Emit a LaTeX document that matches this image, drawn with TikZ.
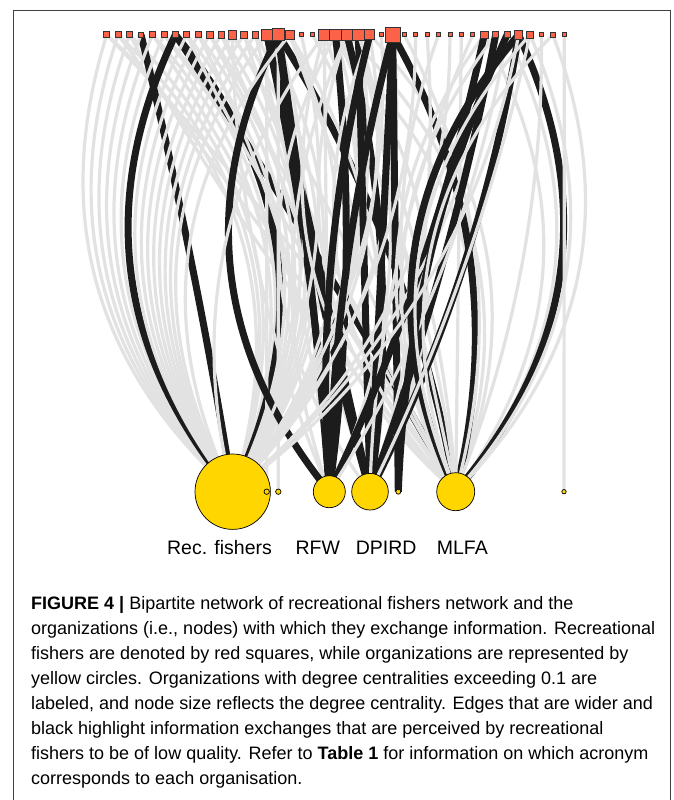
\documentclass[tikz,border=0pt]{standalone}
\usepackage{fontspec}
\setmainfont{Liberation Sans}
\usetikzlibrary{calc}
\pgfdeclarelayer{bg}
\pgfdeclarelayer{edges}
\pgfsetlayers{bg,edges,main}
\definecolor{eg}{RGB}{226,226,226}
\definecolor{eb}{RGB}{28,28,28}
\definecolor{sqfill}{RGB}{252,98,72}
\definecolor{cfill}{RGB}{255,214,0}
\definecolor{framec}{RGB}{64,64,64}
\tikzset{
 gedge/.style={draw=eg, line width=3.2pt},
 bedge/.style={draw=eb, line width=7pt},
 sqnode/.style={rectangle, draw=black!80, line width=0.7pt, fill=sqfill, inner sep=0pt},
 cnode/.style={circle, draw=black, line width=0.7pt, fill=cfill, inner sep=0pt},
 lab/.style={font=\fontsize{19.5}{23}\selectfont, inner sep=0pt, anchor=base},
 captext/.style={font=\fontsize{18}{25}\selectfont, inner sep=0pt, anchor=base west},
 framestyle/.style={draw=framec, line width=1.2pt},
}
\newcommand\grE[3]{%
  \pgfmathsetmacro\kA{2*#3}\pgfmathsetmacro\kB{4*#3}%
  \draw[gedge] (#1.center) .. controls ($(#1)!1/3!(#2)!\kA!90:(#2)$) and ($(#1)!2/3!(#2)!\kB!90:(#2)$) .. (#2.center);}
\newcommand\bkE[3]{%
  \pgfmathsetmacro\kA{2*#3}\pgfmathsetmacro\kB{4*#3}%
  \draw[bedge] (#1.center) .. controls ($(#1)!1/3!(#2)!\kA!90:(#2)$) and ($(#1)!2/3!(#2)!\kB!90:(#2)$) .. (#2.center);}
\begin{document}
\begin{tikzpicture}[x=1pt,y=-1pt]
\useasboundingbox (0,0) rectangle (673,800);
\begin{pgfonlayer}{bg}
\fill[white] (0,0) rectangle (673,800);
\end{pgfonlayer}
\draw[framestyle] (13.5,800) -- (13.5,10.5) -- (670.5,10.5) -- (670.5,800);

% fishers (squares)
\foreach \i/\sz in {0/6,1/6,2/6,3/5,4/6,5/6,6/6,7/6,8/6,9/6.5,10/6.5,11/8.5,12/6.5,13/6.5,14/10.5,15/12,16/9,17/4,18/4,19/11,20/11.5,21/11.5,22/11.5,23/10,24/4,25/15,26/4,27/4,28/4,29/4,30/4,31/4,32/4,33/7.5,34/6,35/6,36/8.5,37/7,38/4,39/5.5,40/4}
  \node[sqnode, minimum size=\sz pt] (s\i) at ({106.7+11.44*\i},34.8) {};

% organisations (circles)
\node[cnode, minimum size=75.4pt] (rec) at (232.7,491.7) {};
\node[cnode, minimum size=5.4pt] (o1) at (266.7,491.7) {};
\node[cnode, minimum size=5.4pt] (o2) at (278.3,491.7) {};
\node[cnode, minimum size=32pt] (rfw) at (329.3,491.7) {};
\node[cnode, minimum size=36.6pt] (dpird) at (370,491.7) {};
\node[cnode, minimum size=5pt] (o3) at (398.3,491.7) {};
\node[cnode, minimum size=38pt] (mlfa) at (455.7,491.7) {};
\node[cnode, minimum size=4.4pt] (o4) at (564,491.7) {};

\node[lab] (lrec) at (219.5,554) {Rec. fishers};
\node[lab] (lrfw) at (317.8,554) {RFW};
\node[lab] (ldpird) at (386.2,554) {DPIRD};
\node[lab] (lmlfa) at (462.3,554) {MLFA};

\begin{pgfonlayer}{edges}
\grE{s0}{rec}{-0.16} \grE{s0}{rec}{0.16} \grE{s0}{mlfa}{0.03}
\grE{s1}{rec}{-0.16} \grE{s1}{rec}{0.16} \grE{s1}{mlfa}{0}
\grE{s2}{rec}{-0.16} \grE{s2}{rec}{0.16} \grE{s2}{mlfa}{-0.03}
\bkE{s3}{rec}{0.01} \grE{s3}{rec}{-0.16}
\grE{s4}{rec}{-0.16} \grE{s4}{rec}{0.16} \grE{s4}{dpird}{0.04}
\grE{s5}{rec}{-0.16} \grE{s5}{rec}{0.16} \grE{s5}{mlfa}{0.02}
\bkE{s6}{rec}{-0.16} \bkE{s6}{rec}{0.16} \bkE{s6}{mlfa}{0.01}
\grE{s7}{rec}{-0.16} \grE{s7}{rec}{0.16} \grE{s7}{mlfa}{-0.02}
\grE{s8}{rec}{-0.16} \grE{s8}{rec}{0.16} \grE{s8}{rfw}{0.05}
\grE{s9}{rec}{-0.16} \grE{s9}{rec}{0.16} \grE{s9}{mlfa}{0}
\grE{s10}{rec}{-0.16} \grE{s10}{rec}{0.16} \grE{s10}{dpird}{0.03}
\grE{s11}{rec}{-0.16} \grE{s11}{rec}{0.16} \grE{s11}{mlfa}{0.02} \grE{s11}{rfw}{-0.05}
\grE{s12}{rec}{-0.16} \grE{s12}{rec}{0.16} \grE{s12}{mlfa}{-0.03}
\grE{s13}{rec}{-0.16} \grE{s13}{rec}{0.16} \grE{s13}{dpird}{0}
\grE{s14}{rec}{-0.16} \grE{s14}{rec}{0.16} \grE{s14}{o1}{0} \bkE{s14}{rfw}{0.02} \bkE{s14}{dpird}{0}
\grE{s15}{rec}{0.1} \grE{s15}{o2}{0} \bkE{s15}{rfw}{-0.16} \bkE{s15}{rfw}{0.01} \bkE{s15}{dpird}{-0.02} \bkE{s15}{mlfa}{0.05}
\grE{s16}{rec}{-0.16} \grE{s16}{rec}{0.16} \grE{s16}{mlfa}{0} \grE{s16}{dpird}{0.1}
\grE{s17}{rec}{0.1}
\grE{s18}{mlfa}{0.05}
\grE{s19}{rec}{0.16} \grE{s19}{rec}{-0.12} \grE{s19}{mlfa}{-0.16} \grE{s19}{mlfa}{0.16} \grE{s19}{rfw}{0}
\grE{s20}{rec}{0.14} \grE{s20}{dpird}{-0.16} \grE{s20}{dpird}{0.16} \grE{s20}{mlfa}{0.05} \bkE{s20}{rfw}{0.03}
\grE{s21}{rec}{0.12} \grE{s21}{mlfa}{-0.16} \grE{s21}{mlfa}{0.16} \grE{s21}{rfw}{-0.1} \bkE{s21}{dpird}{0.05}
\grE{s22}{rec}{0.12} \grE{s22}{mlfa}{0} \bkE{s22}{dpird}{0} \grE{s22}{rfw}{0.1}
\grE{s23}{rec}{0.12} \grE{s23}{mlfa}{-0.16} \grE{s23}{mlfa}{0.16} \bkE{s23}{rfw}{-0.04}
\grE{s24}{rec}{0.1}
\grE{s25}{rec}{0.12} \bkE{s25}{rfw}{-0.03} \bkE{s25}{dpird}{0} \bkE{s25}{o3}{0} \bkE{s25}{mlfa}{0.1}
\grE{s26}{mlfa}{0.1}
\grE{s27}{rec}{0.1}
\grE{s28}{dpird}{0.05}
\grE{s29}{mlfa}{-0.1}
\grE{s30}{rec}{0.12}
\grE{s31}{mlfa}{0}
\grE{s32}{dpird}{-0.05}
\grE{s33}{mlfa}{-0.16} \grE{s33}{mlfa}{0.16} \bkE{s33}{rfw}{0.03}
\grE{s34}{mlfa}{-0.16} \grE{s34}{rec}{0.1} \bkE{s34}{dpird}{0.02}
\grE{s35}{mlfa}{0.16} \grE{s35}{rfw}{0.05} \bkE{s35}{o3}{-0.05}
\bkE{s36}{mlfa}{-0.16} \bkE{s36}{mlfa}{0.16} \bkE{s36}{dpird}{0.04} \grE{s36}{rec}{0.1}
\grE{s37}{mlfa}{-0.16} \grE{s37}{mlfa}{0.16} \grE{s37}{dpird}{0.03}
\grE{s38}{mlfa}{0.05}
\grE{s39}{mlfa}{-0.16} \grE{s39}{mlfa}{0.16}
\grE{s40}{o4}{0}
\end{pgfonlayer}

% caption
\node[captext] (c1) at (31,609.5) {\textbf{FIGURE 4 |} Bipartite network of recreational fishers network and the};
\node[captext] (c2) at (31,634.5) {organizations (i.e., nodes) with which they exchange information. Recreational};
\node[captext] (c3) at (31,659.5) {fishers are denoted by red squares, while organizations are represented by};
\node[captext] (c4) at (31,684.5) {yellow circles. Organizations with degree centralities exceeding 0.1 are};
\node[captext] (c5) at (31,709.5) {labeled, and node size reflects the degree centrality. Edges that are wider and};
\node[captext] (c6) at (31,734.5) {black highlight information exchanges that are perceived by recreational};
\node[captext] (c7) at (31,759.5) {fishers to be of low quality. Refer to \textbf{Table 1} for information on which acronym};
\node[captext] (c8) at (31,784.5) {corresponds to each organisation.};
\end{tikzpicture}
\end{document}
